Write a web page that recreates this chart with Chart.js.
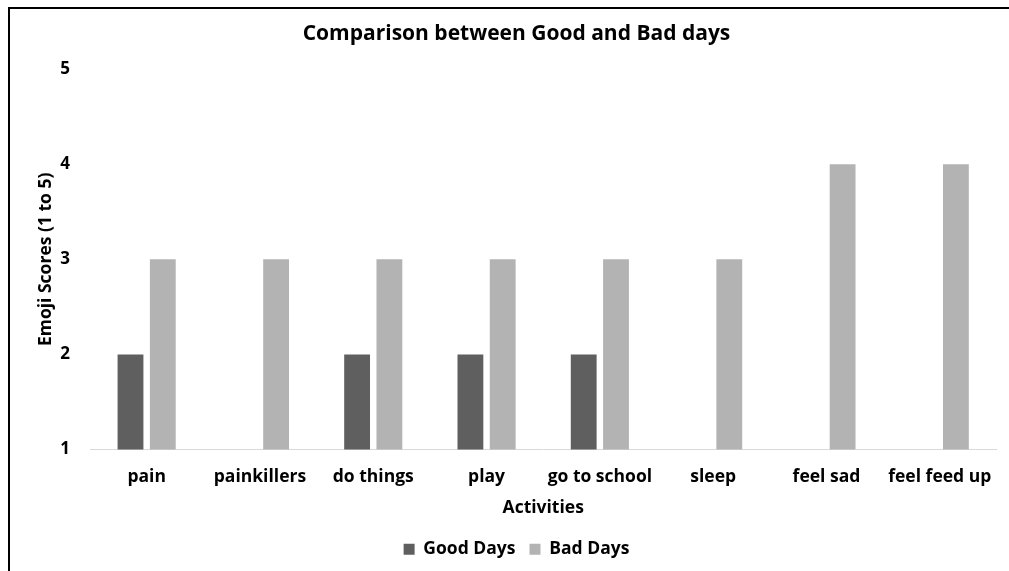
<!DOCTYPE html>
<html lang="en">
<head>
    <meta charset="UTF-8">
    <title>Comparison between Good and Bad days</title>
    <script src="https://cdn.jsdelivr.net/npm/chart.js"></script>
    <style>
        body {
            margin: 0;
            padding: 0;
            background: #fff;
        }
        .wrap {
            position: relative;
            width: 1009px;
            height: 571px;
            overflow: hidden;
        }
        .frame {
            position: absolute;
            left: 8px;
            top: 7px;
            width: 1100px;
            height: 700px;
            border-left: 2px solid #000;
            border-top: 2px solid #000;
            pointer-events: none;
        }
        canvas {
            position: absolute;
            left: 0;
            top: 0;
        }
    </style>
</head>
<body>
    <div class="wrap">
        <canvas id="chartCanvas" width="1009" height="571"></canvas>
        <div class="frame"></div>
    </div>

    <script>
        // Dados do gráfico (null = sem barra visível)
        const activities = ['pain', 'painkillers', 'do things', 'play', 'go to school', 'sleep', 'feel sad', 'feel feed up'];
        const goodDays = [2, null, 2, 2, 2, null, null, null];
        const badDays = [3, 3, 3, 3, 3, 3, 4, 4];
        const yTicks = [1, 2, 3, 4, 5];

        const font = '"Open Sans", Lato, sans-serif';

        const config = {
            type: 'bar',
            data: {
                labels: activities,
                datasets: [{
                    label: 'Good Days',
                    data: goodDays,
                    backgroundColor: '#5f5f5f',
                    categoryPercentage: 0.57,
                    barPercentage: 0.8
                }, {
                    label: 'Bad Days',
                    data: badDays,
                    backgroundColor: '#b3b3b3',
                    categoryPercentage: 0.57,
                    barPercentage: 0.8
                }]
            },
            options: {
                responsive: false,
                animation: false,
                layout: {
                    padding: { left: 36, right: 12, top: 0, bottom: 3 }
                },
                plugins: {
                    title: {
                        display: true,
                        text: 'Comparison between Good and Bad days',
                        color: '#000',
                        font: { family: font, size: 21, weight: 'bold' },
                        padding: { top: 21, bottom: 23 }
                    },
                    legend: {
                        position: 'bottom',
                        labels: {
                            color: '#000',
                            font: { family: font, size: 17.5, weight: 'bold' },
                            boxWidth: 11,
                            boxHeight: 11,
                            padding: 14
                        }
                    },
                    tooltip: { enabled: false }
                },
                scales: {
                    x: {
                        grid: { display: false, drawTicks: false },
                        border: { color: '#d9d9d9', width: 1 },
                        ticks: {
                            color: '#000',
                            font: { family: font, size: 17.5, weight: 'bold' },
                            padding: 17,
                            maxRotation: 0,
                            autoSkip: false
                        },
                        title: {
                            display: true,
                            text: 'Activities',
                            color: '#000',
                            font: { family: font, size: 17.5, weight: 'bold' },
                            padding: { top: -7, bottom: 8 }
                        }
                    },
                    y: {
                        min: 1,
                        max: 5,
                        grid: { display: false, drawTicks: false },
                        border: { display: false },
                        afterBuildTicks: axis => {
                            axis.ticks = yTicks.map(v => ({ value: v }));
                        },
                        afterFit: axis => {
                            axis.width = 54;
                        },
                        ticks: {
                            color: '#000',
                            font: { family: font, size: 17, weight: 'bold' },
                            padding: 20
                        },
                        title: {
                            display: true,
                            text: 'Emoji Scores (1 to 5)',
                            color: '#000',
                            font: { family: font, size: 17.5, weight: 'bold' },
                            padding: 0
                        }
                    }
                }
            }
        };

        const ctx = document.getElementById('chartCanvas').getContext('2d');
        new Chart(ctx, config);
    </script>
</body>
</html>
